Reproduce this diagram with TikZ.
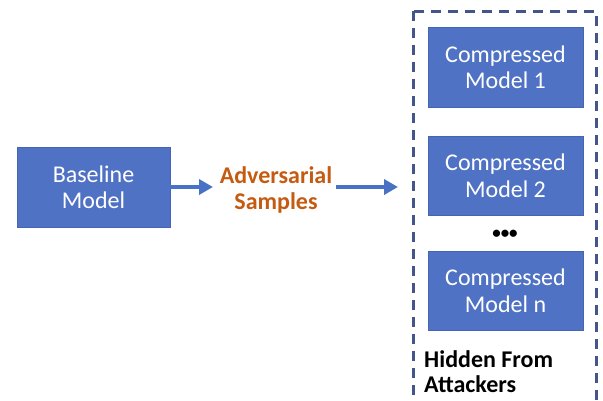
\documentclass[tikz,border=0pt]{standalone}
\usepackage{fontspec}
\setmainfont{Carlito}
\usetikzlibrary{arrows.meta}
\definecolor{boxblue}{RGB}{80,114,196}
\definecolor{boxedge}{RGB}{70,100,180}
\definecolor{arrowblue}{RGB}{72,114,196}
\definecolor{advorange}{RGB}{197,90,17}
\definecolor{dashblue}{RGB}{66,86,138}
\tikzset{
  model/.style={draw=boxedge, line width=0.8pt, fill=boxblue, text=white,
    minimum width=155pt, minimum height=80pt, align=center,
    font=\fontsize{24}{26.5}\selectfont, inner sep=0pt},
  flow/.style={draw=arrowblue, line width=3.5pt,
    -{Triangle[length=14pt,width=15pt]}},
  boldlabel/.style={font=\bfseries\fontsize{24}{25.5}\selectfont, align=center, inner sep=0pt}
}
\begin{document}
\begin{tikzpicture}[x=1pt,y=-1pt]
\useasboundingbox (0,0) rectangle (603,400);
\clip (0,0) rectangle (603,400);
\node[model, minimum width=153pt] (base) at (93.5,187) {Baseline\\Model};
\node[boldlabel, text=advorange] (adv) at (276,190) {Adversarial\\Samples};
\node[model] (c1) at (505.5,67) {Compressed\\Model 1};
\node[model, minimum height=79pt] (c2) at (505.5,175.5) {Compressed\\Model 2};
\node[model, minimum height=79pt] (cn) at (505.5,290.5) {Compressed\\Model n};
\node[font=\bfseries\fontsize{17}{17}\selectfont, inner sep=0pt] (dots) at (505,234) {\textbullet\textbullet\textbullet};
\node[boldlabel, anchor=north west, align=left] (hidden) at (424,350) {Hidden From\\Attackers};
\draw[dashblue, line width=3pt, dash pattern=on 10pt off 7pt] (413,11) rectangle (596,420);
\coordinate (a1e) at (213,187);
\coordinate (a2s) at (336,187);
\coordinate (a2e) at (398,187);
\draw[flow] (base.east) -- (a1e);
\draw[flow] (a2s) -- (a2e);
\end{tikzpicture}
\end{document}
